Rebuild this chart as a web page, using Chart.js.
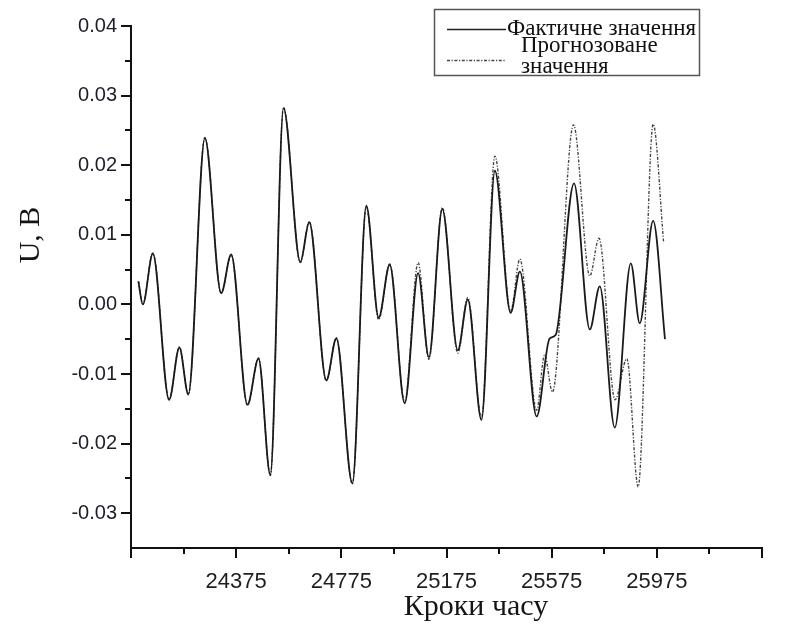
<!DOCTYPE html>
<html>
<head>
<meta charset="utf-8">
<script src="https://cdn.jsdelivr.net/npm/chart.js@4.4.0/dist/chart.umd.min.js"></script>
<style>
  html, body { margin: 0; padding: 0; background: #fff; }
  #wrap { width: 803px; height: 630px; position: relative; }
</style>
</head>
<body>
<div id="wrap"><canvas id="chart"></canvas></div>
<script>
// ---- data: time steps and voltage (U, V) ----
const ACTUAL_X = [24003, 24020, 24058, 24120, 24159, 24193, 24256, 24318, 24356, 24418,
                  24460, 24505, 24555, 24619, 24653, 24718, 24756, 24817, 24870, 24917,
                  24959, 25016, 25067, 25108, 25159, 25218, 25256, 25308, 25359, 25419,
                  25454, 25518, 25567, 25590, 25660, 25720, 25758, 25815, 25876, 25910,
                  25961, 26006];
const ACTUAL_Y = [0.0033, 0.0000, 0.0073, -0.0137, -0.0062, -0.0129, 0.0239, 0.0016, 0.0072, -0.0144,
                  -0.0078, -0.0245, 0.0282, 0.0061, 0.0118, -0.0109, -0.0049, -0.0257, 0.0142, -0.0019,
                  0.0057, -0.0142, 0.0045, -0.0076, 0.0137, -0.0066, 0.0007, -0.0166, 0.0192, -0.0012,
                  0.0047, -0.0161, -0.0049, -0.0044, 0.0174, -0.0036, 0.0026, -0.0177, 0.0059, -0.0027,
                  0.0120, -0.0050];

const FORECAST_X = [24003, 24020, 24058, 24120, 24159, 24193, 24256, 24318, 24356, 24418,
                    24460, 24505, 24555, 24619, 24653, 24718, 24756, 24817, 24870, 24917,
                    24959, 25016, 25067, 25108, 25159, 25218, 25256, 25308, 25359, 25419,
                    25454, 25518, 25548, 25578, 25658, 25720, 25755, 25816, 25861, 25904,
                    25961, 26001];
const FORECAST_Y = [0.0033, 0.0000, 0.0074, -0.0137, -0.0061, -0.0130, 0.0240, 0.0016, 0.0071, -0.0145,
                    -0.0077, -0.0246, 0.0283, 0.0060, 0.0119, -0.0110, -0.0048, -0.0258, 0.0140, -0.0022,
                    0.0058, -0.0140, 0.0060, -0.0079, 0.0139, -0.0070, 0.0010, -0.0163, 0.0213, -0.0010,
                    0.0065, -0.0152, -0.0073, -0.0126, 0.0258, 0.0041, 0.0095, -0.0137, -0.0078, -0.0262,
                    0.0259, 0.0088];

const X_MAJOR = [23975, 24375, 24775, 25175, 25575, 25975, 26375];
const X_MINOR = [24175, 24575, 24975, 25375, 25775, 26175];
const X_LABELED = [24375, 24775, 25175, 25575, 25975];
const Y_MAJOR = [-0.03, -0.02, -0.01, 0.00, 0.01, 0.02, 0.03, 0.04];
const Y_MINOR = [-0.025, -0.015, -0.005, 0.005, 0.015, 0.025, 0.035];

const SERIES_NAMES = ['Фактичне значення', 'Прогнозоване', 'значення'];
const X_TITLE = 'Кроки часу';
const Y_TITLE = 'U, В';

const toPoints = (xs, ys) => xs.map((x, i) => ({ x: x, y: ys[i] }));

const SERIF = '"Liberation Serif", "Times New Roman", serif';
const FORECAST_DASH = [3, 1.6, 1.2, 1.6];

// tick marks, axis titles and the boxed legend
const decorations = {
  id: 'decorations',
  afterDraw(chart) {
    const ctx = chart.ctx;
    const xs = chart.scales.x, ys = chart.scales.y;
    const left = chart.chartArea.left, bottom = chart.chartArea.bottom;
    ctx.save();
    ctx.strokeStyle = '#111';
    ctx.lineWidth = 2;
    ctx.beginPath();
    Y_MAJOR.forEach(v => { const p = Math.round(ys.getPixelForValue(v)); ctx.moveTo(left, p); ctx.lineTo(left - 10, p); });
    Y_MINOR.forEach(v => { const p = Math.round(ys.getPixelForValue(v)); ctx.moveTo(left, p); ctx.lineTo(left - 6, p); });
    X_MAJOR.forEach(v => { const p = Math.round(xs.getPixelForValue(v)); ctx.moveTo(p, bottom); ctx.lineTo(p, bottom + 10); });
    X_MINOR.forEach(v => { const p = Math.round(xs.getPixelForValue(v)); ctx.moveTo(p, bottom); ctx.lineTo(p, bottom + 6); });
    ctx.stroke();

    // axis titles
    ctx.fillStyle = '#151515';
    ctx.font = '30px ' + SERIF;
    ctx.textAlign = 'center';
    ctx.textBaseline = 'middle';
    ctx.fillText(X_TITLE, 476, 607);
    ctx.save();
    ctx.translate(31, 235);
    ctx.rotate(-Math.PI / 2);
    ctx.fillText(Y_TITLE, 0, 0);
    ctx.restore();

    // legend
    ctx.strokeStyle = '#555';
    ctx.lineWidth = 1.5;
    ctx.strokeRect(434.5, 9.5, 265, 66);
    ctx.strokeStyle = '#222';
    ctx.lineWidth = 1.6;
    ctx.beginPath(); ctx.moveTo(447, 29.5); ctx.lineTo(506, 29.5); ctx.stroke();
    ctx.strokeStyle = '#444';
    ctx.lineWidth = 1.3;
    ctx.setLineDash(FORECAST_DASH);
    ctx.beginPath(); ctx.moveTo(447, 60.5); ctx.lineTo(505, 60.5); ctx.stroke();
    ctx.setLineDash([]);
    ctx.font = '23px ' + SERIF;
    ctx.textAlign = 'left';
    ctx.fillStyle = '#111';
    ctx.fillText(SERIES_NAMES[0], 507, 29);
    ctx.fillText(SERIES_NAMES[1], 521, 46);
    ctx.fillText(SERIES_NAMES[2], 521, 67);
    ctx.restore();
  }
};

new Chart(document.getElementById('chart'), {
  type: 'line',
  data: {
    datasets: [
      {
        label: SERIES_NAMES[0],
        data: toPoints(ACTUAL_X, ACTUAL_Y),
        borderColor: '#1a1a1a',
        borderWidth: 1.8,
        pointRadius: 0,
        cubicInterpolationMode: 'monotone',
        fill: false
      },
      {
        label: SERIES_NAMES[1] + ' ' + SERIES_NAMES[2],
        data: toPoints(FORECAST_X, FORECAST_Y),
        borderColor: '#474747',
        borderWidth: 1.4,
        borderDash: FORECAST_DASH,
        pointRadius: 0,
        cubicInterpolationMode: 'monotone',
        fill: false
      }
    ]
  },
  options: {
    responsive: true,
    maintainAspectRatio: false,
    animation: false,
    events: [],
    layout: { padding: { top: 14, right: 41, left: 0, bottom: 0 } },
    plugins: { legend: { display: false }, tooltip: { enabled: false } },
    scales: {
      x: {
        type: 'linear',
        min: 23975,
        max: 26375,
        afterBuildTicks: (axis) => { axis.ticks = X_MAJOR.map(v => ({ value: v })); },
        afterFit: (scale) => { scale.height = 82; },
        grid: { display: false, drawTicks: false },
        border: { display: true, color: '#111', width: 2 },
        ticks: {
          color: '#1e1e1e',
          padding: 21,
          maxRotation: 0,
          autoSkip: false,
          font: { family: '"Liberation Sans Narrow", "Liberation Sans", Arial, sans-serif', size: 22 },
          callback: (v) => X_LABELED.includes(v) ? String(v) : ''
        }
      },
      y: {
        type: 'linear',
        min: -0.035,
        max: 0.04,
        afterBuildTicks: (axis) => { axis.ticks = Y_MAJOR.map(v => ({ value: v })); },
        afterFit: (scale) => { scale.width = 131; },
        grid: { display: false, drawTicks: false },
        border: { display: true, color: '#111', width: 2 },
        ticks: {
          color: '#1e1e2a',
          padding: 14,
          font: { family: '"Liberation Sans", Arial, sans-serif', size: 20 },
          callback: (v) => v.toFixed(2)
        }
      }
    }
  },
  plugins: [decorations]
});
</script>
</body>
</html>
